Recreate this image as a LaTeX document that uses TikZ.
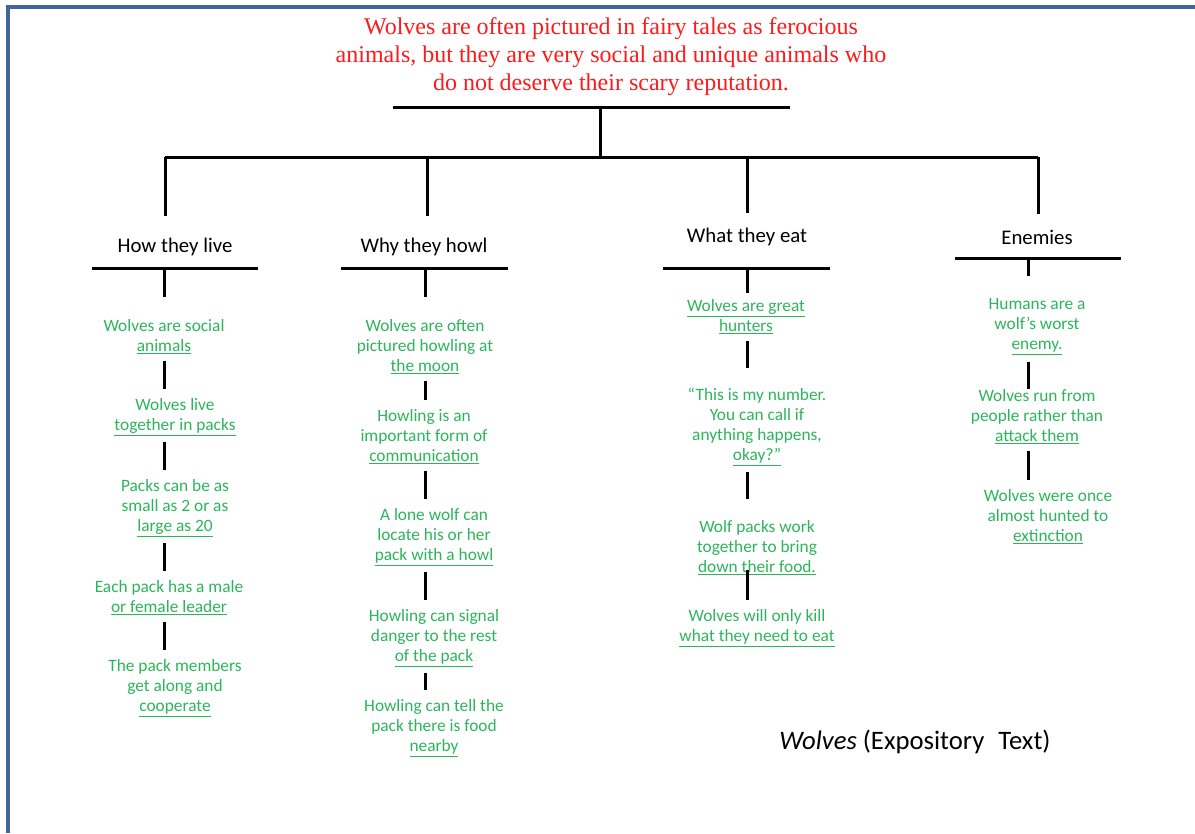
\documentclass[tikz,border=0pt]{standalone}
\usepackage{fontspec}
\setmainfont{Carlito}
\newfontfamily\titlefont{Liberation Serif}
\usetikzlibrary{positioning,calc}
\definecolor{frameblue}{HTML}{41669C}
\definecolor{titlered}{HTML}{FF1A1A}
\definecolor{factgreen}{HTML}{2CB55A}

\begin{document}
\begin{tikzpicture}[x=0.75pt,y=-0.75pt,
  title/.style={text=titlered, font=\titlefont\fontsize{18}{21}\selectfont, align=center},
  head/.style={font=\fontsize{15.6}{18}\selectfont, inner sep=0pt},
  fact/.style={text=factgreen, font=\fontsize{13}{15}\selectfont, align=center, inner sep=0pt},
  foot/.style={font=\fontsize{20}{24}\selectfont},
  bar/.style={draw=black, line width=2.25pt},
  link/.style={bar, shorten <=4.5pt, shorten >=6.75pt},
  frame/.style={draw=frameblue, line width=2.6pt}]
\useasboundingbox (0,0) rectangle (1195,833);

% page frame
\draw[frame] (8,833) -- (8,7) -- (1195,7);

% main idea
\node[title] (idea) at (611,57) {Wolves are often pictured in fairy tales as ferocious\\
  animals, but they are very social and unique animals who\\
  do not deserve their scary reputation.};
\coordinate (tba) at (393,107);
\coordinate (tbb) at (790,107);
\coordinate (stem) at (600,107);
\coordinate (bra) at (165,157);
\coordinate (brb) at (1038,157);
\draw[bar] (tba) -- (tbb);
\draw[bar] (stem) -- (stem |- bra);
\draw[bar] (bra) -- (brb);

% topics
\node[head] (h1) at (175,247) {How they live};
\node[head] (h2) at (424,247) {Why they howl};
\node[head] (h3) at (747,237) {What they eat};
\node[head] (h4) at (1037,237) {Enemies};
\coordinate (d1) at (165,157);
\coordinate (d2) at (427,157);
\coordinate (d3) at (747,157);
\coordinate (d4) at (1038,157);
\draw[bar, shorten >=16.5pt] (d1) -- (h1.north -| d1);
\draw[bar, shorten >=16.5pt] (d2) -- (h2.north -| d2);
\draw[bar, shorten >=11.5pt] (d3) -- (h3.north -| d3);
\draw[bar, shorten >=11.5pt] (d4) -- (h4.north -| d4);

\coordinate (u1a) at (92,268);  \coordinate (u1b) at (258,268);
\coordinate (u2a) at (341,268); \coordinate (u2b) at (508,268);
\coordinate (u3a) at (663,268); \coordinate (u3b) at (830,268);
\coordinate (u4a) at (955,258); \coordinate (u4b) at (1121,258);
\draw[bar] (u1a) -- (u1b);
\draw[bar] (u2a) -- (u2b);
\draw[bar] (u3a) -- (u3b);
\draw[bar] (u4a) -- (u4b);

% spines
\coordinate (s1) at (164,0);
\coordinate (s2) at (425,0);
\coordinate (s3) at (747,0);
\coordinate (s4) at (1028,0);

% how they live
\node[fact] (f11) at (164,337) {Wolves are social\\\underline{animals}};
\node[fact] (f12) at (175,417) {Wolves live\\\underline{together in packs}};
\node[fact] (f13) at (175,508) {Packs can be as\\small as 2 or as\\\underline{large as 20}};
\node[fact] (f14) at (169,598) {Each pack has a male\\\underline{or female leader}};
\node[fact] (f15) at (175,688) {The pack members\\get along and\\\underline{cooperate}};
\draw[bar, shorten >=16.5pt] (u1a -| s1) -- (f11.north -| s1);
\draw[link] (f11.south -| s1) -- (f12.north -| s1);
\draw[link] (f12.south -| s1) -- (f13.north -| s1);
\draw[link] (f13.south -| s1) -- (f14.north -| s1);
\draw[link] (f14.south -| s1) -- (f15.north -| s1);

% why they howl
\node[fact] (f21) at (425,347) {Wolves are often\\pictured howling at\\\underline{the moon}};
\node[fact] (f22) at (424,437) {Howling is an\\important form of\\\underline{communication}};
\node[fact] (f23) at (434,537) {A lone wolf can\\locate his or her\\\underline{pack with a howl}};
\node[fact] (f24) at (434,638) {Howling can signal\\danger to the rest\\\underline{of the pack}};
\node[fact] (f25) at (434,728) {Howling can tell the\\pack there is food\\\underline{nearby}};
\draw[bar, shorten >=16.5pt] (u2a -| s2) -- (f21.north -| s2);
\draw[link] (f21.south -| s2) -- (f22.north -| s2);
\draw[link] (f22.south -| s2) -- (f23.north -| s2);
\draw[link] (f23.south -| s2) -- (f24.north -| s2);
\draw[link] (f24.south -| s2) -- (f25.north -| s2);

% what they eat
\node[fact] (f31) at (746,317) {\underline{Wolves are great}\\\underline{hunters}};
\node[fact] (f32) at (757,427) {“This is my number.\\You can call if\\anything happens,\\\underline{okay?”}};
\node[fact] (f33) at (757,548) {Wolf packs work\\together to bring\\\underline{down their food.}};
\node[fact] (f34) at (757,628) {Wolves will only kill\\\underline{what they need to eat}};
\draw[bar, shorten >=4.5pt] (u3a -| s3) -- (f31.north -| s3);
\draw[link, shorten >=15pt] (f31.south -| s3) -- (f32.north -| s3);
\draw[link, shorten >=16pt] (f32.south -| s3) -- (f33.north -| s3);
\draw[link, shorten <=-4pt] (f33.south -| s3) -- (f34.north -| s3);

% enemies
\node[fact] (f41) at (1037,327) {Humans are a\\wolf’s worst\\\underline{enemy.}};
\node[fact] (f42) at (1037,417) {Wolves run from\\people rather than\\\underline{attack them}};
\node[fact] (f43) at (1048,517) {Wolves were once\\almost hunted to\\\underline{extinction}};
\draw[bar, shorten >=16.5pt] (u4a -| s4) -- (f41.north -| s4);
\draw[link, shorten >=0pt] (f41.south -| s4) -- (f42.north -| s4);
\draw[link] (f42.south -| s4) -- (f43.north -| s4);

% caption
\node[foot] (cap) at (915,742) {\textit{Wolves} (Expository\hspace{0.3em} Text)};
\end{tikzpicture}
\end{document}
